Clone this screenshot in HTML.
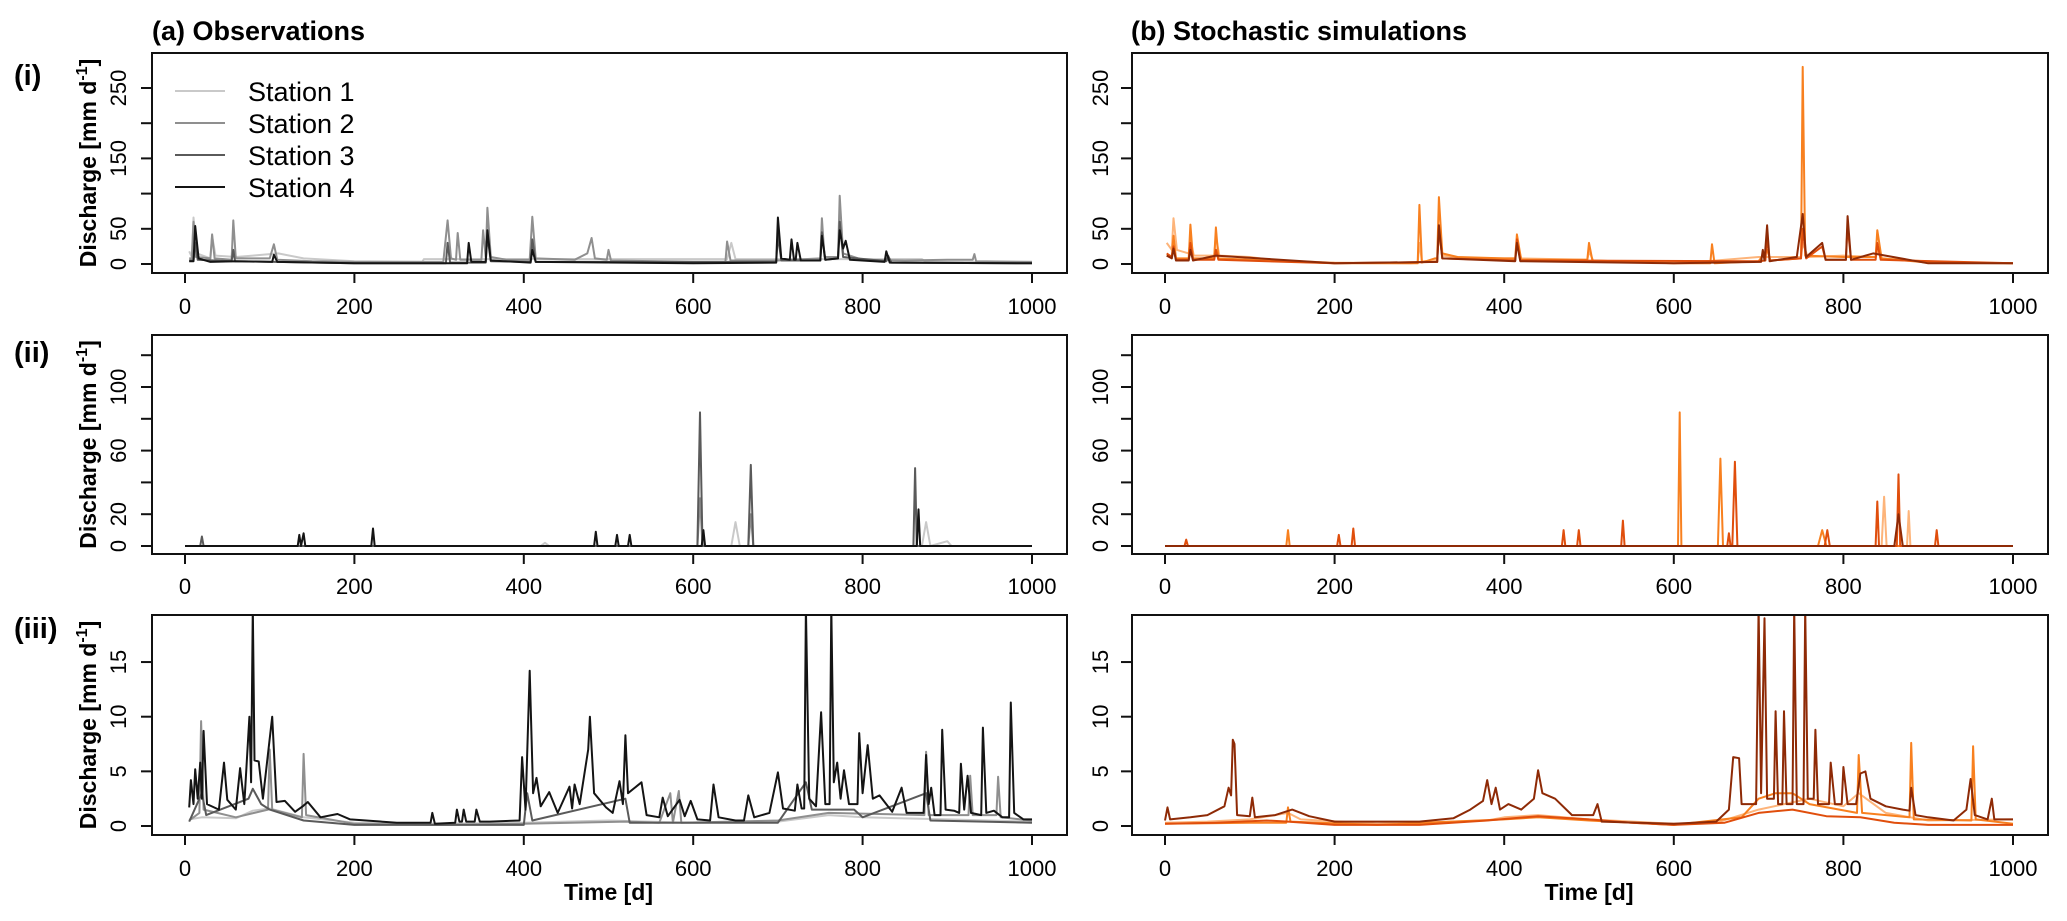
<!DOCTYPE html>
<html><head><meta charset="utf-8">
<style>
html,body{margin:0;padding:0;background:#fff;}
svg{display:block;font-family:"Liberation Sans",sans-serif;}
</style></head>
<body>
<svg id="fig" width="2067" height="921" viewBox="0 0 2067 921" xmlns="http://www.w3.org/2000/svg">
<defs></defs>
<text x="152" y="40" font-size="27" font-weight="bold">(a) Observations</text>
<text x="1131" y="40" font-size="27" font-weight="bold">(b) Stochastic simulations</text>
<text x="14" y="85" font-size="29" font-weight="bold">(i)</text>
<text x="14" y="362" font-size="29" font-weight="bold">(ii)</text>
<text x="14" y="638" font-size="29" font-weight="bold">(iii)</text>
<g id="panels"></g>
</svg>
<script>
// ---- Data: [day, discharge] keypoints ----
const xTicks = [0, 200, 400, 600, 800, 1000];
const yTicksI = [0, 50, 100, 150, 200, 250];
const yLabelsI = ["0", "50", "", "150", "", "250"];
const yTicksII = [0, 20, 40, 60, 80, 100, 120];
const yLabelsII = ["0", "20", "", "60", "", "100", ""];
const yTicksIII = [0, 5, 10, 15];
const yLabelsIII = ["0", "5", "10", "15"];
const stationNames = ["Station 1", "Station 2", "Station 3", "Station 4"];

// Row (i) observations
const obsI_s1 = [[5,18],[8,10],[10,66],[14,15],[30,8],[32,40],[36,12],[60,10],[80,12],[110,15],[140,8],[200,4],[280,3],[282,7],[640,7],[645,30],[650,7],[870,7],[875,3],[1000,3]];
const obsI_s2 = [[5,8],[8,8],[10,60],[13,10],[30,8],[32,42],[35,8],[55,6],[57,62],[60,8],[100,8],[105,28],[109,6],[150,4],[200,3],[250,3],[280,3],[305,3],[310,62],[314,8],[320,6],[322,44],[325,6],[350,6],[352,48],[355,10],[357,80],[361,10],[380,6],[407,6],[410,67],[414,8],[460,6],[475,15],[480,37],[484,8],[498,6],[500,20],[503,5],[600,3],[638,3],[640,32],[644,5],[700,5],[750,8],[752,65],[755,10],[771,10],[773,97],[777,15],[800,6],[850,5],[900,6],[930,6],[932,14],[934,4],[1000,3]];
const obsI_s3 = [[5,5],[10,5],[12,30],[15,6],[55,4],[57,20],[59,4],[200,1],[308,1],[310,30],[313,2],[355,2],[357,40],[361,4],[408,3],[410,35],[414,3],[698,3],[700,40],[704,5],[750,5],[752,45],[756,6],[771,8],[773,60],[777,10],[828,4],[830,12],[834,2],[1000,1]];
const obsI_s4 = [[5,4],[10,4],[12,54],[16,8],[30,3],[60,4],[103,3],[105,13],[109,3],[200,1],[333,1],[335,30],[338,3],[355,3],[357,48],[361,5],[408,2],[410,20],[414,3],[600,1],[698,2],[700,66],[704,8],[714,6],[716,35],[719,6],[721,6],[723,30],[727,5],[750,5],[752,40],[756,6],[771,8],[773,48],[777,22],[780,33],[785,6],[826,3],[828,18],[832,2],[1000,1]];
// Row (i) simulations
const simI_s1 = [[2,30],[8,20],[10,65],[14,20],[28,15],[30,35],[34,12],[58,12],[60,40],[64,12],[100,10],[130,5],[200,2],[290,1],[298,2],[300,30],[303,4],[321,5],[323,45],[327,12],[360,8],[413,8],[415,30],[420,8],[498,6],[500,18],[505,5],[600,1],[650,5],[700,10],[750,10],[752,30],[758,10],[800,12],[838,10],[840,20],[845,8],[920,2],[1000,1]];
const simI_s2 = [[2,12],[8,10],[10,40],[13,8],[28,8],[30,56],[33,8],[58,8],[60,52],[63,8],[100,6],[200,1],[298,1],[300,84],[303,2],[318,8],[321,8],[323,95],[327,15],[345,10],[400,8],[413,8],[415,42],[420,6],[498,6],[500,30],[504,5],[600,1],[643,1],[645,28],[648,1],[700,4],[710,20],[714,5],[750,8],[752,280],[755,12],[800,10],[838,10],[840,48],[845,8],[900,2],[1000,1]];
const simI_s3 = [[2,15],[8,10],[10,25],[13,6],[28,6],[30,30],[33,6],[58,6],[60,20],[63,6],[200,1],[321,3],[323,50],[327,8],[413,5],[415,35],[419,5],[700,4],[708,5],[710,40],[713,5],[750,8],[752,50],[756,8],[775,25],[779,6],[803,6],[805,55],[809,6],[838,6],[840,30],[844,6],[1000,1]];
const simI_s4 = [[2,12],[8,8],[10,22],[13,5],[28,5],[30,20],[33,5],[60,12],[200,1],[321,3],[323,55],[327,8],[413,4],[415,30],[419,4],[600,1],[703,3],[705,20],[707,5],[710,55],[713,4],[745,10],[752,71],[756,10],[775,30],[779,6],[803,6],[805,68],[809,6],[835,15],[900,1],[1000,1]];

// Row (ii) observations
const obsII_s1 = [[0,0],[420,0],[425,2],[430,0],[645,0],[650,15],[655,0],[870,0],[875,15],[880,0],[900,3],[905,0],[1000,0]];
const obsII_s2 = [[0,0],[605,0],[608,30],[611,0],[665,0],[668,20],[671,0],[1000,0]];
const obsII_s3 = [[0,0],[18,0],[20,6],[22,0],[605,0],[608,84],[611,0],[665,0],[668,51],[671,0],[860,0],[862,49],[864,0],[1000,0]];
const obsII_s4 = [[0,0],[133,0],[135,7],[137,0],[140,8],[142,0],[220,0],[222,11],[224,0],[483,0],[485,9],[487,0],[508,0],[510,7],[512,0],[523,0],[525,7],[527,0],[610,0],[612,10],[614,0],[864,0],[866,23],[868,0],[1000,0]];
// Row (ii) simulations
const simII_s1 = [[0,0],[845,0],[848,31],[851,0],[875,0],[877,22],[879,0],[1000,0]];
const simII_s2 = [[0,0],[143,0],[145,10],[147,0],[605,0],[607,84],[609,0],[652,0],[655,55],[658,0],[770,0],[775,10],[780,0],[1000,0]];
const simII_s3 = [[0,0],[23,0],[25,4],[27,0],[203,0],[205,7],[207,0],[220,0],[222,11],[224,0],[468,0],[470,10],[472,0],[486,0],[488,10],[490,0],[538,0],[540,16],[542,0],[663,0],[665,8],[667,0],[669,0],[672,53],[675,0],[778,0],[781,10],[784,0],[838,0],[840,28],[842,0],[863,0],[865,45],[867,0],[908,0],[910,10],[912,0],[1000,0]];
const simII_s4 = [[0,0],[860,0],[865,20],[870,0],[1000,0]];

// Row (iii) observations
const obsIII_s1 = [[5,0.6],[20,0.8],[60,0.7],[80,1.4],[100,1.6],[140,0.8],[200,0.3],[300,0.2],[400,0.3],[500,0.5],[600,0.3],[700,0.4],[760,1.0],[800,0.8],[900,0.6],[1000,0.4]];
const obsIII_s2 = [[5,0.5],[17,1.2],[19,9.6],[22,1.5],[60,0.8],[98,1.5],[100,7],[103,1.5],[138,0.8],[140,6.6],[143,1.0],[200,0.2],[300,0.1],[400,0.2],[520,0.4],[560,0.3],[573,3],[576,0.3],[583,3.2],[586,0.3],[700,0.5],[760,1.2],[873,1],[875,6.8],[878,1],[925,1],[927,4.6],[930,1],[958,1],[960,4.5],[963,0.8],[1000,0.5]];
const obsIII_s3 = [[5,0.4],[20,3],[25,1.0],[75,2.5],[80,3.4],[90,2.0],[100,1.5],[140,0.5],[200,0.1],[400,0.1],[404,3],[410,0.5],[520,2.5],[525,0.3],[700,0.3],[733,4],[740,1.5],[790,1.5],[800,0.8],[875,3],[880,0.5],[1000,0.3]];
const obsIII_s4 = [[5,1.7],[7,4.2],[10,2],[12,5.2],[15,2.5],[18,5.8],[20,2.5],[22,8.7],[26,2],[40,1.5],[46,5.8],[50,2.4],[60,1.5],[65,5.3],[70,2],[76,10],[78,4],[80,20],[82,6],[87,5.9],[92,2.5],[103,10],[108,2.2],[118,2.3],[130,1.3],[139,1.8],[145,2.2],[160,0.8],[180,1.1],[195,0.6],[250,0.3],[290,0.3],[292,1.2],[295,0.2],[319,0.3],[321,1.5],[324,0.4],[327,0.4],[329,1.5],[332,0.4],[342,0.4],[344,1.5],[348,0.4],[360,0.4],[395,0.5],[398,6.3],[402,1.5],[407,14.2],[411,3],[415,4.4],[420,1.8],[430,3.1],[440,1.2],[454,3.6],[457,1.6],[460,3.8],[466,2],[476,7],[478,10],[483,3],[497,1.7],[505,1.2],[513,4.1],[517,2],[520,8.3],[523,3],[539,4],[545,1],[560,0.8],[564,2.6],[570,0.9],[584,2.4],[590,0.9],[597,2.3],[605,0.6],[620,0.5],[624,3.8],[630,0.8],[650,0.5],[660,0.5],[665,2.8],[672,0.8],[690,1.2],[700,4.9],[706,1.6],[720,1.4],[723,3.8],[728,1.6],[731,1.6],[733,20],[737,2.5],[745,1.8],[751,10.4],[756,2],[761,2],[763,20],[766,4],[770,5.8],[774,2.5],[778,5.1],[784,2],[794,2],[796,8.5],[800,3],[806,7.4],[812,2.5],[820,2.8],[835,1.3],[846,3.5],[852,1.2],[872,1.2],[875,6.5],[878,2],[881,3.5],[885,1],[892,1],[894,8.8],[898,1.5],[908,1.4],[914,1.2],[916,5.7],[920,1.5],[924,4.6],[928,1.2],[940,1],[942,9],[946,1.2],[955,1.4],[965,0.8],[973,0.8],[975,11.3],[979,1.2],[990,0.6],[1000,0.6]];
// Row (iii) simulations
const simIII_s1 = [[0,0.3],[50,0.4],[100,0.6],[145,1.2],[160,0.6],[250,0.2],[380,0.5],[400,0.8],[440,1.0],[500,0.6],[600,0.2],[650,0.3],[700,1.5],[760,2.5],[800,1.8],[818,3],[850,1.2],[900,0.5],[1000,0.6]];
const simIII_s2 = [[0,0.2],[100,0.3],[143,0.3],[145,1.7],[148,0.4],[250,0.1],[400,0.6],[440,0.8],[500,0.5],[600,0.1],[680,0.8],[700,2.5],[720,3],[740,3],[760,2],[816,1.2],[818,6.5],[822,1.2],[878,0.8],[880,7.6],[883,0.6],[951,0.5],[953,7.3],[956,0.6],[1000,0.2]];
const simIII_s3 = [[0,0.2],[60,0.3],[120,0.5],[145,0.4],[200,0.1],[300,0.1],[380,0.5],[440,0.9],[500,0.6],[550,0.3],[600,0.1],[660,0.3],[700,1.2],[740,1.5],[780,0.9],[820,0.8],[860,0.3],[900,0.1],[1000,0.1]];
const simIII_s4 = [[0,0.5],[3,1.7],[6,0.6],[30,0.8],[50,1.0],[70,1.8],[75,3.5],[78,2.8],[80,7.9],[82,7.5],[85,1.0],[100,0.9],[103,2.6],[106,0.8],[130,1.0],[150,1.5],[170,0.9],[200,0.4],[300,0.4],[340,0.7],[360,1.5],[375,2.3],[380,4.2],[385,2],[390,3.5],[395,1.5],[405,2],[420,1.5],[435,2.5],[440,5.1],[445,3],[460,2.5],[480,1],[505,1],[510,2],[515,0.4],[600,0.2],[650,0.4],[665,1.5],[670,6.3],[677,6.2],[680,2],[697,2],[700,20],[703,3],[707,19],[710,2.5],[718,2.5],[720,10.5],[723,2],[728,2],[730,10.5],[733,2],[740,2],[742,20],[745,2],[753,2],[755,20],[758,2.5],[765,2.5],[767,8.8],[770,2],[783,2],[785,5.8],[790,2],[798,2],[800,5.4],[805,2],[815,2],[820,4.8],[826,5],[832,2.5],[850,1.8],[870,1.5],[878,1.4],[880,3.5],[885,1],[900,0.8],[930,0.5],[945,1.5],[950,4.3],[955,1],[970,0.6],[975,2.5],[978,0.6],[1000,0.6]];

const grayCols = ["#c9c9c9", "#8f8f8f", "#5a5a5a", "#141414"];
const orangeCols = ["#fdb47a", "#f8801f", "#e04e0c", "#8e2a06"];

// ---- Layout ----
const cols = [{bx:152, bw:915, x0:185, kx:0.847, lab:118, tick:141}, {bx:1132, bw:916, x0:1165, kx:0.848, lab:1100, tick:1121}];
const rows = [
  {by:53, bh:220, y0:264, ky:0.704, ticks:yTicksI, labels:yLabelsI, xlab:306, obs:[obsI_s1,obsI_s2,obsI_s3,obsI_s4], sim:[simI_s1,simI_s2,simI_s3,simI_s4], name:"i"},
  {by:335, bh:219, y0:546, ky:1.59, ticks:yTicksII, labels:yLabelsII, xlab:586, obs:[obsII_s1,obsII_s2,obsII_s3,obsII_s4], sim:[simII_s1,simII_s2,simII_s3,simII_s4], name:"ii"},
  {by:615, bh:220, y0:826, ky:10.93, ticks:yTicksIII, labels:yLabelsIII, xlab:868, obs:[obsIII_s1,obsIII_s2,obsIII_s3,obsIII_s4], sim:[simIII_s1,simIII_s2,simIII_s3,simIII_s4], name:"iii"}
];
const NS = "http://www.w3.org/2000/svg";
const root = document.getElementById("panels");
const defs = document.querySelector("defs");
function mk(tag, attrs, parent) {
  const e = document.createElementNS(NS, tag);
  for (const k in attrs) e.setAttribute(k, attrs[k]);
  parent.appendChild(e);
  return e;
}
rows.forEach((r, ri) => {
  cols.forEach((c, ci) => {
    const g = mk("g", {}, root);
    
    
    const xs = d => c.x0 + d * c.kx;
    const ys = v => r.y0 - v * r.ky;
    const cid = "clip" + ri + ci;
    const cp = mk("clipPath", {id: cid}, defs);
    mk("rect", {x: c.bx, y: r.by, width: c.bw, height: r.bh}, cp);
    const series = ci === 0 ? r.obs : r.sim;
    const colsC = ci === 0 ? grayCols : orangeCols;
    const lg = mk("g", {"clip-path": "url(#" + cid + ")"}, g);
    series.forEach((s, si) => {
      const p = mk("polyline", {points: s.map(q => xs(q[0]).toFixed(1) + "," + ys(q[1]).toFixed(1)).join(" "), fill: "none", stroke: colsC[si], "stroke-width": 2, "stroke-linejoin": "round"}, lg);
      
      
    });
    const box = mk("rect", {x: c.bx, y: r.by, width: c.bw, height: r.bh, fill: "none", stroke: "#111", "stroke-width": 2}, g);
    
    
    const xa = mk("g", {}, g);
    
    
    xTicks.forEach(t => {
      mk("line", {x1: xs(t), x2: xs(t), y1: r.by + r.bh, y2: r.by + r.bh + 10, stroke: "#111", "stroke-width": 2}, xa);
      const tx = mk("text", {x: xs(t), y: r.xlab + 8, "font-size": 22, "text-anchor": "middle"}, xa);
      tx.textContent = t;
      
      
    });
    const ya = mk("g", {}, g);
    
    
    r.ticks.forEach((t, ti) => {
      mk("line", {x1: c.bx, x2: c.tick, y1: ys(t), y2: ys(t), stroke: "#111", "stroke-width": 2}, ya);
      if (r.labels[ti] !== "") {
        const ty = mk("text", {x: 0, y: 0, "font-size": 22, "text-anchor": "middle", transform: "translate(" + (c.lab + 8) + "," + ys(t) + ") rotate(-90)"}, ya);
        ty.textContent = r.labels[ti];
        
        
      }
    });
    if (ci === 0) {
      const yt = mk("text", {x: 0, y: 0, "font-size": 23, "font-weight": "bold", "text-anchor": "middle", transform: "translate(96," + (r.by + r.bh / 2) + ") rotate(-90)"}, g);
      yt.textContent = "Discharge [mm d";
      const sup = mk("tspan", {dy: -9, "font-size": 16}, yt);
      sup.textContent = "-1";
      const close = mk("tspan", {dy: 9}, yt);
      close.textContent = "]";
      
      
    }
    if (ri === 2) {
      const xt = mk("text", {x: xs(500), y: 900, "font-size": 23, "font-weight": "bold", "text-anchor": "middle"}, g);
      xt.textContent = "Time [d]";
      
      
    }
    if (ri === 0 && ci === 0) {
      const lgd = mk("g", {}, g);
      
      
      stationNames.forEach((nm, i) => {
        const yy = 91 + i * 32;
        mk("line", {x1: 175, x2: 225, y1: yy, y2: yy, stroke: grayCols[i], "stroke-width": 2}, lgd);
        const lt = mk("text", {x: 248, y: yy + 10, "font-size": 27}, lgd);
        lt.textContent = nm;
        
        
      });
    }
  });
});
</script>
</body></html>
